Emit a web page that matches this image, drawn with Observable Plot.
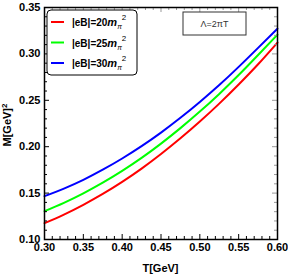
<!DOCTYPE html>
<html>
<head>
<meta charset="utf-8">
<script src="https://cdn.jsdelivr.net/npm/d3@7"></script>
<script src="https://cdn.jsdelivr.net/npm/@observablehq/plot@0.6"></script>
<style>
  html, body { margin: 0; padding: 0; background: white; }
</style>
</head>
<body>
<div id="chart"></div>
<script>
// Temperature grid (GeV)
const T = [0.300, 0.325, 0.350, 0.375, 0.400, 0.425, 0.450, 0.475, 0.500, 0.525, 0.550, 0.575, 0.600];
// M [GeV]^2 for each magnetic field
const m20 = [0.1176, 0.1269, 0.1374, 0.1491, 0.1621, 0.1764, 0.1921, 0.2090, 0.2271, 0.2464, 0.2670, 0.2888, 0.3122];
const m25 = [0.1305, 0.1395, 0.1497, 0.1612, 0.1739, 0.1879, 0.2033, 0.2200, 0.2378, 0.2569, 0.2772, 0.2988, 0.3207];
const m30 = [0.1467, 0.1549, 0.1643, 0.1752, 0.1873, 0.2006, 0.2152, 0.2311, 0.2482, 0.2664, 0.2860, 0.3065, 0.3272];
const seriesKeys = ["20", "25", "30"];
const seriesColors = ["#ff0000", "#00ff00", "#0000ff"];
const xTicks = [0.30, 0.35, 0.40, 0.45, 0.50, 0.55, 0.60];
const yTicks = [0.10, 0.15, 0.20, 0.25, 0.30, 0.35];
const xMinor = d3.range(30, 61).map(v => v / 100).filter(v => !xTicks.some(t => Math.abs(t - v) < 1e-9));
const yMinor = d3.range(10, 36).map(v => v / 100).filter(v => !yTicks.some(t => Math.abs(t - v) < 1e-9));
const annotation = "Λ=2πT";

const seriesVals = [m20, m25, m30];
const data = [];
seriesKeys.forEach((k, i) => T.forEach((t, j) => data.push({T: t, M: seriesVals[i][j], s: k})));

const W = 288, H = 277, mL = 44, mR = 11, mT = 7, mB = 38;
const pw = W - mL - mR, ph = H - mT - mB;
const major = 5, minor = 3;

const plot = Plot.plot({
  width: W, height: H,
  marginLeft: mL, marginRight: mR, marginTop: mT, marginBottom: mB,
  style: {fontFamily: "'Liberation Sans', Arial, sans-serif", fontSize: "11px", fontWeight: "bold", color: "black", background: "white"},
  x: {domain: [0.3, 0.6]},
  y: {domain: [0.1, 0.35]},
  color: {domain: seriesKeys, range: seriesColors},
  marks: [
    Plot.line(data, {x: "T", y: "M", z: "s", stroke: "s", strokeWidth: 2, curve: "natural"}),
    // bottom ticks
    Plot.tickX(xTicks, {x: d => d, insetTop: ph - major, stroke: "black", strokeWidth: 1}),
    Plot.tickX(xMinor, {x: d => d, insetTop: ph - minor, stroke: "black", strokeWidth: 1}),
    // top ticks
    Plot.tickX(xTicks, {x: d => d, insetBottom: ph - major, stroke: "#999", strokeWidth: 1}),
    Plot.tickX(xMinor, {x: d => d, insetBottom: ph - minor, stroke: "#999", strokeWidth: 1}),
    // left ticks
    Plot.tickY(yTicks, {y: d => d, insetRight: pw - major, stroke: "black", strokeWidth: 1}),
    Plot.tickY(yMinor, {y: d => d, insetRight: pw - minor, stroke: "black", strokeWidth: 1}),
    // right ticks
    Plot.tickY(yTicks, {y: d => d, insetLeft: pw - major, stroke: "#999", strokeWidth: 1}),
    Plot.tickY(yMinor, {y: d => d, insetLeft: pw - minor, stroke: "#999", strokeWidth: 1}),
    Plot.axisX(xTicks, {tickSize: 0, tickPadding: 4, tickFormat: d3.format(".2f"), label: null}),
    Plot.axisY(yTicks, {tickSize: 0, tickPadding: 4, tickFormat: d3.format(".2f"), label: null}),
    Plot.frame({stroke: "black", strokeWidth: 1.5})
  ]
});

const svg = d3.select(plot);
// axis titles
svg.append("text")
  .attr("x", mL + pw / 2).attr("y", 272)
  .attr("text-anchor", "middle")
  .attr("font-size", 11).attr("font-weight", "bold")
  .text("T[GeV]");
const yt = svg.append("text")
  .attr("transform", `translate(11,${mT + ph / 2 + 2}) rotate(-90)`)
  .attr("text-anchor", "middle")
  .attr("font-size", 11).attr("font-weight", "bold");
yt.append("tspan").text("M[GeV]");
yt.append("tspan").attr("baseline-shift", "super").attr("font-size", 8).text("2");

// legend
const lg = svg.append("g").attr("text-anchor", "start");
lg.append("rect").attr("x", 47).attr("y", 10).attr("width", 90).attr("height", 65)
  .attr("rx", 4).attr("fill", "white").attr("stroke", "black").attr("stroke-width", 1);
seriesKeys.forEach((k, i) => {
  const y = 22 + i * 20.5;
  lg.append("line").attr("x1", 51).attr("x2", 64).attr("y1", y).attr("y2", y)
    .attr("stroke", seriesColors[i]).attr("stroke-width", 2);
  const t = lg.append("text").attr("x", 72).attr("y", y + 4)
    .attr("text-anchor", "start")
    .attr("font-size", 10).attr("font-weight", "bold");
  t.append("tspan").text(`|eB|=${k}`);
  t.append("tspan").attr("font-style", "italic").attr("font-weight", "bold").attr("font-size", 11).text("m");
  t.append("tspan").attr("font-style", "italic").attr("font-weight", "normal").attr("font-size", 7).attr("dy", 3).text("π");
  t.append("tspan").attr("font-weight", "normal").attr("font-size", 8).attr("dy", -9).text("2");
});

// annotation box
svg.append("rect").attr("x", 183).attr("y", 12).attr("width", 63).attr("height", 23)
  .attr("fill", "white").attr("stroke", "#333").attr("stroke-width", 1);
svg.append("text").attr("x", 214.5).attr("y", 27)
  .attr("text-anchor", "middle").attr("font-size", 9).attr("font-weight", "normal")
  .attr("fill", "#333").text(annotation);

document.getElementById("chart").appendChild(plot);
</script>
</body>
</html>
